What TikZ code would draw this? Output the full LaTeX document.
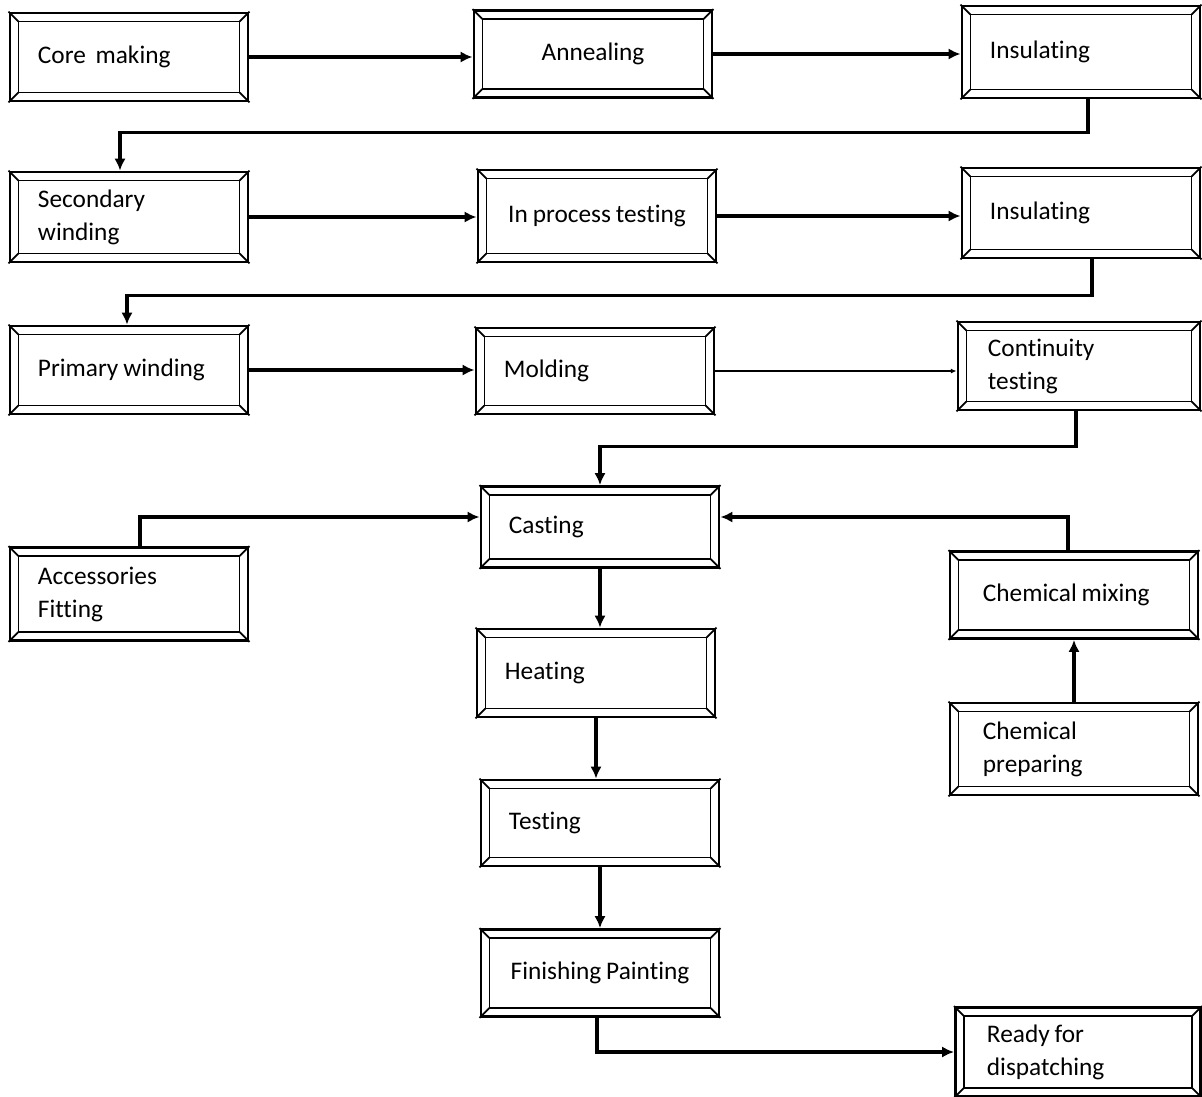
\documentclass[tikz,border=0pt]{standalone}
\usepackage{fontspec}
\setmainfont{Carlito}[Ligatures=CommonOff, WordSpace=0.85]
\usepackage{tikz}
\usetikzlibrary{positioning, arrows.meta}

\begin{document}
\begin{tikzpicture}[x=0.01cm, y=-0.01cm,
    font=\fontsize{7.2}{9.4}\selectfont, >={Latex[length=3.4pt,width=3.2pt]},
    stage/.style={draw, line width=0.8pt, minimum width=2.38cm, minimum height=0.88cm,
                  inner xsep=0.28cm, inner ysep=2pt, text width=1.82cm, align=flush left},
    centred/.style={text width=, align=center},
    flow/.style={->, line width=0.9pt},
    thinflow/.style={-{Latex[length=1.6pt,width=1.4pt]}, line width=0.6pt}]
  \useasboundingbox (0,0) rectangle (1202,1096);

  % first row
  \node[stage] (core) at (129,57) {Core\ \ making};
  \node[stage,centred,minimum height=0.87cm] (anneal) at (593,54) {Annealing};
  \node[stage,minimum height=0.92cm] (insulA) at (1081,52) {Insulating};

  % second row
  \node[stage,minimum height=0.9cm] (second) at (129,217) {Secondary\\winding};
  \node[stage,centred,minimum height=0.92cm] (inproc) at (597,216) {In process testing};
  \node[stage,minimum height=0.9cm] (insulB) at (1081,213) {Insulating};

  % third row
  \node[stage] (primary) at (129,370) {Primary winding};
  \node[stage,minimum width=2.34cm,minimum height=0.86cm] (molding) at (595,371) {Molding};
  \node[stage,minimum width=2.42cm] (contin) at (1079,366) {Continuity\\testing};

  % casting and the rest
  \node[stage,minimum height=0.81cm] (casting) at (600,527) {Casting};
  \node[stage,minimum height=0.93cm] (access) at (129,594) {Accessories\\Fitting};
  \node[stage,minimum width=2.48cm,minimum height=0.87cm] (chemmix) at (1074,595) {Chemical mixing};
  \node[stage,minimum width=2.35cm] (heating) at (596,673) {Heating};
  \node[stage,minimum width=2.48cm,minimum height=0.92cm] (chemprep) at (1074,749) {Chemical\\preparing};
  \node[stage,minimum height=0.86cm] (testing) at (600,823) {Testing};
  \node[stage,centred,minimum height=0.87cm] (finish) at (600,973) {Finishing Painting};
  \node[stage,minimum width=2.45cm,minimum height=0.89cm] (ready) at (1078,1052) {Ready for\\dispatching};

  % bevelled frames
  \foreach \n in {core,anneal,insulA,second,inproc,insulB,primary,molding,contin,
                  casting,access,chemmix,heating,chemprep,testing,finish,ready} {
    \draw[line width=0.5pt] ([shift={(10,10)}]\n.north west) rectangle ([shift={(-10,-10)}]\n.south east);
    \draw[line width=0.5pt] (\n.north west) -- ++(10,10)
                            (\n.north east) -- ++(-10,10)
                            (\n.south west) -- ++(10,-10)
                            (\n.south east) -- ++(-10,-10);
  }

  % connectors
  \draw[flow] (core.east) -- (core.east -| anneal.west);
  \draw[flow] (anneal.east) -- (anneal.east -| insulA.west);
  \draw[flow] ([xshift=0.07cm]insulA.south) -- ++(0,33) -| ([xshift=-0.09cm]second.north);
  \draw[flow] (second.east) -- (second.east -| inproc.west);
  \draw[flow] (inproc.east) -- (inproc.east -| insulB.west);
  \draw[flow] ([xshift=0.11cm]insulB.south) -- ++(0,36) -| ([xshift=-0.02cm]primary.north);
  \draw[flow] (primary.east) -- (primary.east -| molding.west);
  \draw[thinflow] (molding.east) -- (molding.east -| contin.west);
  \draw[flow] ([xshift=-0.03cm]contin.south) -- ++(0,35) -| (casting.north);
  \draw[flow] ([xshift=0.11cm]access.north) |- ([yshift=0.1cm]casting.west);
  \draw[flow] ([xshift=-0.06cm]chemmix.north) |- ([yshift=0.1cm]casting.east);
  \draw[flow] (casting.south) -- (casting.south |- heating.north);
  \draw[flow] (chemprep.north) -- (chemmix.south);
  \draw[flow] (heating.south) -- (heating.south |- testing.north);
  \draw[flow] (testing.south) -- (testing.south |- finish.north);
  \draw[flow] ([xshift=-0.03cm]finish.south) |- (ready.west);
\end{tikzpicture}
\end{document}
